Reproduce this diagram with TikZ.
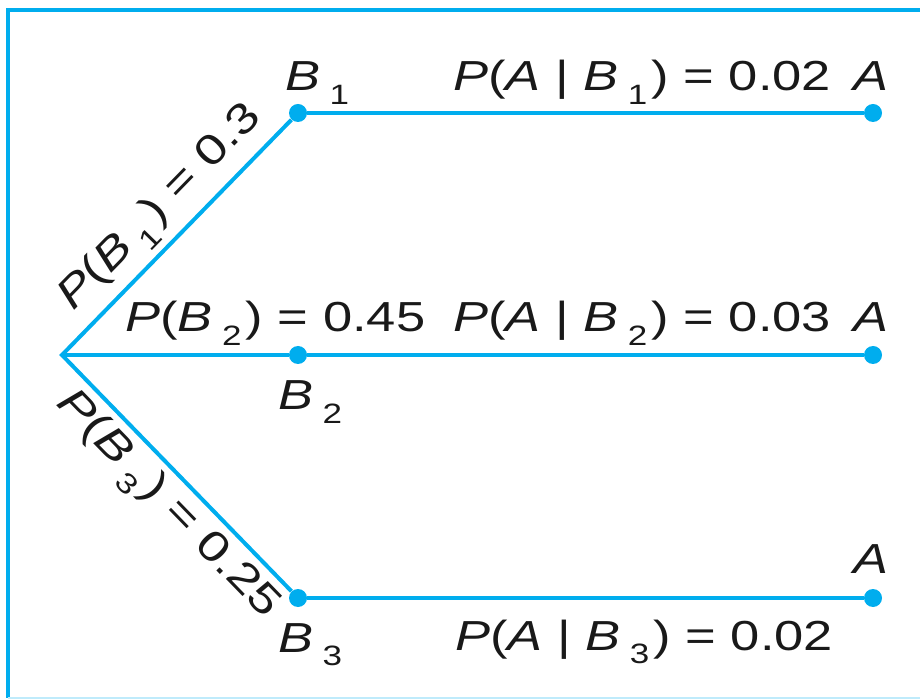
\documentclass[tikz,border=0pt]{standalone}
\usepackage{fontspec}
\setmainfont{Liberation Sans}[FakeStretch=1.25]
\usetikzlibrary{positioning}
\definecolor{treeblue}{RGB}{0,173,238}
\newcommand{\sbs}[1]{\hspace{0.22em}\raisebox{-0.32em}{\fontsize{14}{14}\selectfont #1}\hspace{0.1em}}
\newcommand{\pv}{\textit{P}}

\begin{document}
\begin{tikzpicture}[x=0.5pt,y=-0.5pt,
    every node/.style={font=\fontsize{21}{24}\selectfont},
    dot/.style={circle,fill=treeblue,inner sep=0pt,minimum size=9pt},
    branch/.style={treeblue,line width=2pt,line join=miter},
    lbl/.style={inner sep=0pt,text=black!90}]
  \useasboundingbox (0,0) rectangle (920,699);
  \draw[treeblue,line width=2pt] (920,10) -- (8,10) -- (8,698);
  \draw[treeblue!25,line width=1pt] (8,698) -- (920,698);
  \coordinate (root) at (62,355);
  \foreach \i/\y in {1/113,2/355,3/598} {
    \node[dot] (b\i) at (298,\y) {};
    \node[dot] (a\i) at (873,\y) {};
  }
  \draw[branch] (b1) -- (root) -- (b3);
  \draw[branch] (root) -- (b2);
  \foreach \i in {1,2,3} \draw[branch] (b\i) -- (a\i);
  \path (root) -- node[lbl,sloped,above=4pt,pos=0.53] (pb1)
     {\pv(\textit{B}\sbs{1}) = 0.3} (b1);
  \path (root) -- node[lbl,sloped,below=4pt,pos=0.55] (pb3)
     {\pv(\textit{B}\sbs{3}) = 0.25} (b3);
  \node[lbl,anchor=base west] (pb2) at (125,332) {\pv(\textit{B}\sbs{2}) = 0.45};
  \node[lbl,anchor=base west] (lb1) at (285,91) {\textit{B}\sbs{1}};
  \node[lbl,anchor=base west] (lb2) at (278,410) {\textit{B}\sbs{2}};
  \node[lbl,anchor=base west] (lb3) at (278,652) {\textit{B}\sbs{3}};
  \node[lbl,anchor=base west] (pa1) at (453,91) {\pv(\textit{A} | \textit{B}\sbs{1}) = 0.02};
  \node[lbl,anchor=base west] (pa2) at (453,332) {\pv(\textit{A} | \textit{B}\sbs{2}) = 0.03};
  \node[lbl,anchor=base west] (pa3) at (455,650) {\pv(\textit{A} | \textit{B}\sbs{3}) = 0.02};
  \foreach \i/\y in {1/91,2/332,3/573}
    \node[lbl,anchor=base] (la\i) at (871,\y) {\textit{A}};
\end{tikzpicture}
\end{document}
